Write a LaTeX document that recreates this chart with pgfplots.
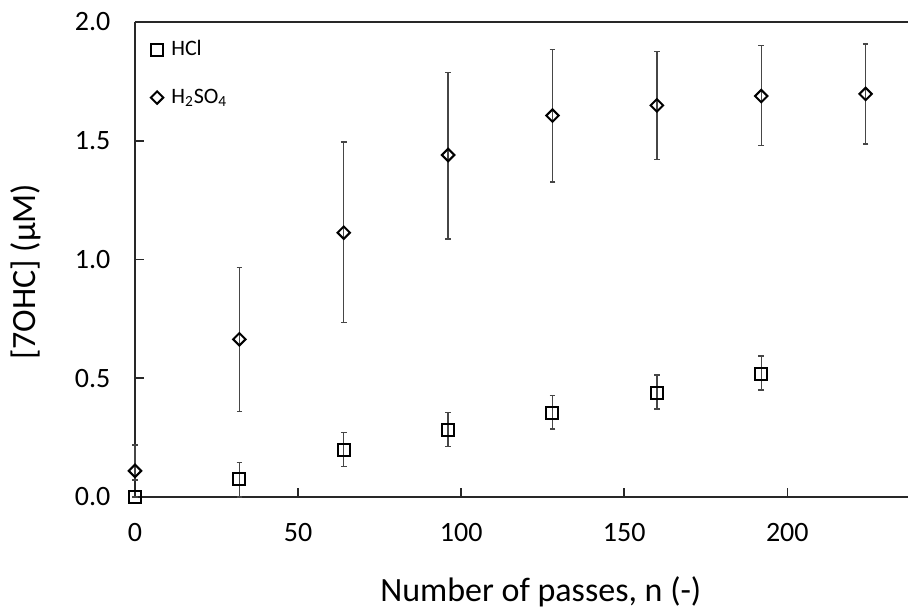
\documentclass[border=0pt]{standalone}
\usepackage{pgfplots}
\pgfplotsset{compat=1.18}
\usepackage{pgfplotstable}
\usepackage{fontspec}
\setmainfont{Carlito}

\definecolor{errgray}{RGB}{70,70,70}
\definecolor{axgray}{RGB}{40,40,40}

\pgfplotsset{
  smallleg/.style={legend image code/.code={\draw[mark repeat=2,mark phase=2,##1] plot coordinates {(0pt,0pt) (6pt,0pt) (12pt,0pt)};}},
  errs/.style={error bars/.cd, y dir=both, y explicit,
    error bar style={errgray, line width=0.7pt},
    error mark options={errgray, line width=0.7pt, mark size=1.4pt, rotate=90}},
}

% x, mean, error plus, error minus
\pgfplotstableread{
x   y      ep     em
0   0.000  0.000  0.000
32  0.074  0.072  0.074
64  0.198  0.074  0.070
96  0.282  0.073  0.070
128 0.355  0.073  0.069
160 0.439  0.075  0.069
192 0.518  0.076  0.068
}\hcl

\pgfplotstableread{
x   y      ep     em
0   0.110  0.109  0.038
32  0.664  0.302  0.305
64  1.113  0.382  0.377
96  1.440  0.347  0.354
128 1.606  0.279  0.280
160 1.649  0.226  0.227
192 1.688  0.212  0.208
224 1.697  0.210  0.211
}\hsulf

\begin{document}
\begin{tikzpicture}
\begin{axis}[
  scale only axis,
  width=386.5pt, height=237.5pt,
  xmin=0, xmax=237, ymin=0, ymax=2,
  axis x line*=box, axis y line*=left,
  axis line style={axgray, line width=1pt},
  xtick={0,50,100,150,200},
  ytick={0,0.5,1,1.5,2},
  xtick pos=bottom,
  tick align=inside,
  major tick length=4.5pt,
  tick style={axgray, line width=0.8pt},
  /pgf/number format/assume math mode=true,
  yticklabel style={/pgf/number format/fixed, /pgf/number format/fixed zerofill, /pgf/number format/precision=1, font=\fontsize{14}{16}\selectfont, xshift=-8.8pt},
  xticklabel style={font=\fontsize{14}{16}\selectfont, yshift=-9.8pt},
  xlabel={Number of passes, n (-)},
  ylabel={[7OHC] (µM)},
  label style={font=\fontsize{17}{20}\selectfont},
  xlabel style={at={(axis description cs:0.525,-0.221)}, anchor=base},
  ylabel style={at={(axis description cs:-0.141,0.474)}, anchor=center},
  clip=false,
  legend cell align=left,
  legend style={at={(axis description cs:0.02,0.97)}, anchor=north west, draw=none, fill=none,
    font=\fontsize{11}{13}\selectfont, row sep=11pt, column sep=2pt, inner sep=0pt},
]
\addplot+[only marks, mark=square, black, mark size=3pt,
  mark options={line width=1pt, fill=none, draw=black}, smallleg, errs]
  table[x=x, y=y, y error plus=ep, y error minus=em] {\hcl};
\addlegendentry{HCl}
\addplot+[only marks, mark=square, black, mark size=2.2pt,
  mark options={rotate=45, line width=1pt, fill=none, draw=black}, smallleg, errs]
  table[x=x, y=y, y error plus=ep, y error minus=em] {\hsulf};
\addlegendentry{H\textsubscript{2}SO\textsubscript{4}}
\end{axis}
\pgfresetboundingbox
\path[use as bounding box] (-67.5pt,-57pt) rectangle (386.5pt,248.5pt);
\end{tikzpicture}
\end{document}
